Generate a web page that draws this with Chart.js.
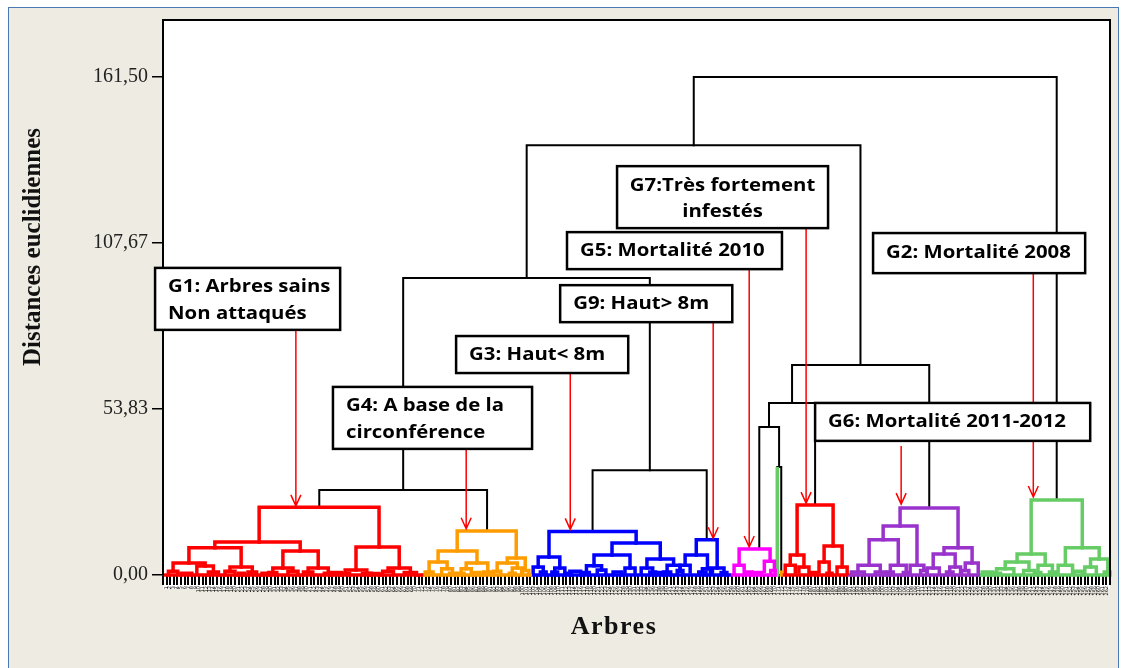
<!DOCTYPE html>
<html lang="fr">
<head>
<meta charset="utf-8">
<title>Dendrogramme</title>
<script src="https://cdn.jsdelivr.net/npm/chart.js@4.4.0/dist/chart.umd.min.js"></script>
<style>
  body { margin: 0; background: #fff; }
  #frame {
    position: absolute; left: 8px; top: 7px; width: 1111px; height: 672px;
    background: #eeebe2; border: 1.5px solid #4a78b2; box-sizing: border-box;
  }
  #dendro { position: absolute; left: 0; top: 0; }
</style>
</head>
<body>
<div id="frame"></div>
<canvas id="dendro" width="1123" height="668"></canvas>
<script>
// y ticks (distances euclidiennes)
const yTicks = [0, 53.83, 107.67, 161.5];

// links: [x left, x right, merge height, left child height, right child height]
// x = leaf position (1 leaf = 1 unit), heights in distance units
const blackLinks = [
  [147.4, 248.2, 161.5, 139.4, 24.3],
  [101.0, 193.7, 139.4, 96.3, 68.1],
  [66.7, 135.2, 96.3, 27.6, 34.0],
  [43.4, 90.0, 27.6, 22.0, 14.3],
  [119.3, 151.0, 34.0, 14.1, 11.4],
  [174.7, 212.8, 68.1, 55.8, 21.7],
  [168.3, 181.1, 55.8, 48.0, 22.7],
  [165.6, 171.1, 48.0, 8.4, 35.0],
  [170.6, 171.7, 35.0, 35.0, 1.5]
];

const redLinks = [
  [0.8, 71.8, 0, 0, 0],
  [26.7, 60.0, 22.0, 10.7, 9.1],
  [14.4, 38.1, 10.7, 8.8, 7.8],
  [7.2, 21.7, 8.8, 3.9, 2.6],
  [33.3, 43.1, 7.8, 2.3, 2.3],
  [53.6, 65.6, 9.1, 1.6, 2.3],
  [2.8, 11.7, 3.9, 1.2, 2.9],
  [9.4, 14.0, 2.9, 0.8, 1.0],
  [1.5, 4.1, 1.2, 0, 0.5],
  [5.0, 8.0, 0.6, 0, 0],
  [12.6, 15.4, 1.0, 0, 0],
  [18.6, 24.8, 2.6, 1.2, 1.0],
  [17.2, 20.0, 1.2, 0, 0],
  [23.6, 26.0, 1.0, 0, 0],
  [21.0, 22.6, 0.6, 0, 0],
  [27.5, 30.0, 0.6, 0, 0],
  [30.5, 36.1, 2.3, 0.8, 1.2],
  [29.4, 31.6, 0.8, 0, 0],
  [34.7, 37.5, 1.2, 0, 0],
  [40.3, 45.9, 2.3, 1.0, 0.6],
  [39.0, 41.6, 1.0, 0, 0],
  [44.8, 47.0, 0.6, 0, 0],
  [46.5, 49.5, 0.8, 0, 0],
  [50.6, 56.6, 1.6, 0.6, 0.6],
  [49.4, 51.8, 0.6, 0, 0],
  [55.4, 57.8, 0.6, 0, 0],
  [57.5, 60.0, 0.5, 0, 0],
  [62.5, 68.7, 2.3, 1.2, 0.8],
  [61.0, 64.0, 1.2, 0, 0],
  [67.0, 70.4, 0.8, 0, 0],
  // G7
  [172.6, 189.8, 0, 0, 0],
  [176.1, 186.1, 22.7, 6.5, 9.4],
  [174.2, 178.0, 6.5, 3.2, 2.6],
  [183.6, 188.6, 9.4, 4.2, 2.6],
  [172.8, 175.6, 3.2, 0.6, 1.0],
  [176.6, 179.4, 2.6, 1.0, 0.6],
  [182.2, 185.0, 4.2, 1.0, 1.0],
  [187.2, 190.0, 2.6, 0.6, 0.6],
  [179.6, 181.6, 0.8, 0, 0],
  [184.4, 185.8, 0.6, 0, 0]
];

const orangeLinks = [
  [72.2, 102.0, 0, 0, 0],
  [81.7, 98.1, 14.3, 7.8, 5.5],
  [76.4, 87.2, 7.8, 4.2, 3.9],
  [95.6, 100.6, 5.5, 3.9, 1.5],
  [73.9, 78.9, 4.2, 1.0, 2.0],
  [84.2, 90.2, 3.9, 2.0, 1.0],
  [92.8, 98.4, 3.9, 1.2, 2.3],
  [77.4, 80.4, 2.0, 0, 0.6],
  [79.6, 81.2, 0.6, 0, 0],
  [82.8, 85.6, 2.0, 0.6, 0],
  [82.0, 83.6, 0.6, 0, 0],
  [86.4, 88.0, 0.8, 0, 0],
  [97.0, 99.8, 2.3, 0.6, 0],
  [96.2, 97.8, 0.6, 0, 0],
  [99.6, 101.6, 1.5, 0, 0],
  [72.8, 75.0, 1.0, 0, 0],
  [89.0, 91.4, 1.0, 0, 0],
  [91.8, 93.8, 1.2, 0, 0],
  [171.7, 171.7, 1.5, 0, 0]
];

const blueLinks = [
  [102.4, 157.2, 0, 0, 0],
  [107.2, 131.4, 14.1, 5.8, 10.4],
  [104.2, 110.2, 5.8, 2.6, 2.3],
  [124.7, 138.1, 10.4, 6.5, 5.2],
  [119.7, 129.7, 6.5, 3.0, 2.3],
  [134.4, 141.8, 5.2, 2.3, 3.2],
  [102.8, 105.6, 2.6, 0.6, 1.0],
  [104.8, 106.4, 1.0, 0, 0],
  [108.8, 111.6, 2.3, 1.0, 0.6],
  [108.0, 109.6, 1.0, 0, 0],
  [117.6, 121.8, 3.0, 0.8, 1.6],
  [116.8, 118.4, 0.8, 0, 0],
  [120.6, 123.0, 1.6, 0, 0],
  [128.3, 131.1, 2.3, 0.6, 0.6],
  [132.8, 136.0, 2.3, 0.6, 1.0],
  [135.2, 136.8, 1.0, 0, 0],
  [140.0, 143.6, 3.2, 1.0, 1.2],
  [139.0, 141.0, 1.0, 0, 0],
  [113.0, 116.0, 1.2, 0, 0],
  [111.6, 113.4, 0.6, 0, 0],
  [125.0, 127.4, 1.0, 0, 0],
  [137.0, 139.2, 0.8, 0, 0],
  // G9
  [148.1, 153.9, 11.4, 6.5, 2.3],
  [145.0, 151.2, 6.5, 3.2, 2.0],
  [143.6, 146.4, 3.2, 1.5, 1.0],
  [142.8, 144.4, 1.5, 0, 0],
  [149.8, 152.6, 2.0, 1.0, 0.6],
  [148.8, 150.8, 1.0, 0, 0],
  [152.0, 155.8, 2.3, 0.8, 0.8],
  [155.0, 156.6, 0.8, 0, 0]
];

const magentaLinks = [
  [157.8, 169.6, 0, 0, 0],
  [160.0, 168.6, 8.4, 3.2, 4.5],
  [167.0, 169.8, 4.5, 1.2, 1.5],
  [158.6, 161.4, 3.2, 0.8, 1.0],
  [161.6, 163.6, 1.0, 0, 0],
  [164.0, 166.2, 0.8, 0, 0],
  [168.8, 170.0, 1.5, 0, 0]
];

const purpleLinks = [
  [190.4, 226.4, 0, 0, 0],
  [204.7, 220.8, 21.7, 15.9, 8.8],
  [200.0, 209.4, 15.9, 11.4, 3.2],
  [196.1, 204.2, 11.4, 3.2, 3.2],
  [216.9, 224.7, 8.8, 6.8, 3.9],
  [213.9, 220.0, 6.8, 2.3, 2.6],
  [193.0, 199.2, 3.2, 1.0, 1.0],
  [202.0, 206.4, 3.2, 1.0, 0.8],
  [207.5, 211.3, 3.2, 0.8, 1.5],
  [222.8, 226.4, 3.9, 1.5, 1.0],
  [212.2, 215.6, 2.3, 0.6, 0.6],
  [218.5, 221.5, 2.6, 1.0, 0.6],
  [191.2, 194.8, 1.0, 0, 0],
  [197.8, 200.6, 1.0, 0, 0],
  [201.2, 202.8, 1.0, 0, 0],
  [205.6, 207.2, 0.8, 0, 0],
  [210.4, 212.2, 1.5, 0, 0],
  [217.6, 219.4, 1.0, 0, 0],
  [221.8, 223.8, 1.5, 0, 0]
];

const greenLinks = [
  [226.8, 262.6, 0, 0, 0],
  [170.6, 170.6, 35.0, 0, 0],
  [241.1, 255.3, 24.3, 6.8, 8.8],
  [237.2, 245.0, 6.8, 4.2, 3.2],
  [250.6, 260.0, 8.8, 3.2, 5.2],
  [257.6, 262.4, 5.2, 2.6, 1.0],
  [233.9, 240.5, 4.2, 2.0, 1.5],
  [243.0, 247.0, 3.2, 0.8, 1.0],
  [248.6, 252.6, 3.2, 1.0, 0.8],
  [256.0, 259.2, 2.6, 0.8, 0.8],
  [231.5, 236.3, 2.0, 0.6, 0.6],
  [227.5, 230.5, 1.0, 0, 0],
  [229.4, 232.6, 0.6, 0, 0],
  [239.0, 242.0, 1.5, 0, 0],
  [242.2, 243.8, 0.8, 0, 0],
  [246.2, 247.8, 1.0, 0, 0],
  [253.0, 255.4, 1.2, 0, 0],
  [261.4, 263.0, 1.0, 0, 0]
];

// annotation boxes: box = [x left, top height, x right, bottom height], arrow = [x, from, to]
const notes = [
  { lines: ['G1: Arbres sains', 'Non attaqués'], box: [-2.2, 99.6, 49.2, 79.5], arrow: [36.9, 79.5, 22.4] },
  { lines: ['G4: A base de la', 'circonférence'], box: [47.2, 61.0, 102.5, 40.9], arrow: [84.2, 40.9, 15.0] },
  { lines: ['G3: Haut< 8m'], box: [81.4, 77.5, 129.2, 65.5], arrow: [113.1, 65.5, 14.8] },
  { lines: ['G9: Haut> 8m'], box: [110.3, 94.0, 158.1, 82.0], arrow: [152.8, 82.0, 11.9] },
  { lines: ['G5: Mortalité 2010'], box: [112.2, 111.2, 171.9, 99.2], arrow: [162.8, 99.2, 9.1] },
  { lines: ['G7:Très fortement', 'infestés'], box: [126.1, 132.6, 184.7, 112.5], arrow: [178.6, 112.5, 23.3], center: true },
  { lines: ['G2: Mortalité 2008'], box: [197.2, 110.9, 256.1, 97.9], arrow: [241.7, 97.9, 25.3] },
  { lines: ['G6: Mortalité 2011-2012'], box: [181.1, 55.8, 257.5, 43.5], arrow: [205.0, 41.8, 23.0] }
];

const groups = [
  { links: redLinks, color: '#ff0000', width: 3.5 },
  { links: orangeLinks, color: '#ff9c00', width: 3.5 },
  { links: blueLinks, color: '#0000ff', width: 3.5 },
  { links: magentaLinks, color: '#ff00ff', width: 3.5 },
  { links: purpleLinks, color: '#9933cc', width: 3.5 },
  { links: greenLinks, color: '#66cc66', width: 3.5 },
  { links: blackLinks, color: '#000000', width: 2 }
];

const datasets = [];
groups.forEach(g => {
  g.links.forEach(([xl, xr, h, hl, hr]) => {
    datasets.push({
      data: [{x: xl, y: hl}, {x: xl, y: h}, {x: xr, y: h}, {x: xr, y: hr}],
      borderColor: g.color,
      borderWidth: g.width,
      showLine: true,
      pointRadius: 0,
      tension: 0,
      clip: false,
      borderJoinStyle: 'miter',
      borderCapStyle: 'square'
    });
  });
});

const framePlugin = {
  id: 'frame',
  beforeDraw(chart) {
    const {ctx, chartArea: a} = chart;
    ctx.save();
    ctx.fillStyle = '#fff';
    ctx.fillRect(a.left, a.top, a.right - a.left, a.bottom - a.top + 14);
    ctx.restore();
  },
  afterDraw(chart) {
    const {ctx, chartArea: a} = chart;
    ctx.save();
    ctx.strokeStyle = '#000';
    ctx.lineWidth = 2;
    ctx.beginPath();
    ctx.moveTo(a.left - 1, a.top);
    ctx.lineTo(a.right, a.top);
    ctx.lineTo(a.right, a.bottom + 2);
    ctx.stroke();

    // axis titles
    ctx.fillStyle = '#111';
    ctx.textAlign = 'center';
    ctx.textBaseline = 'middle';
    ctx.font = 'bold 25px "Liberation Serif"';
    ctx.translate(34, 247);
    ctx.rotate(-Math.PI / 2);
    ctx.fillText('Distances euclidiennes', 0, 0);
    ctx.restore();

    ctx.save();
    ctx.fillStyle = '#111';
    ctx.textAlign = 'center';
    ctx.textBaseline = 'middle';
    ctx.font = 'bold 26px "Liberation Serif"';
    ctx.letterSpacing = '1.5px';
    ctx.fillText('Arbres', 614, 627);
    ctx.restore();
  }
};

const notesPlugin = {
  id: 'notes',
  afterDraw(chart) {
    const {ctx} = chart;
    const xs = chart.scales.x, ys = chart.scales.y;
    notes.forEach(n => {
      const [bx0, by0, bx1, by1] = n.box;
      const L = xs.getPixelForValue(bx0), R = xs.getPixelForValue(bx1);
      const T = ys.getPixelForValue(by0), B = ys.getPixelForValue(by1);
      const ax = xs.getPixelForValue(n.arrow[0]);
      const a0 = ys.getPixelForValue(n.arrow[1]);
      const a1 = ys.getPixelForValue(n.arrow[2]);
      ctx.save();
      // arrow
      ctx.strokeStyle = '#ff0000';
      ctx.lineWidth = 1.5;
      ctx.beginPath();
      ctx.moveTo(ax, a0);
      ctx.lineTo(ax, a1);
      ctx.moveTo(ax - 5, a1 - 11);
      ctx.lineTo(ax, a1);
      ctx.lineTo(ax + 5, a1 - 11);
      ctx.stroke();
      // box
      ctx.fillStyle = '#fff';
      ctx.fillRect(L, T, R - L, B - T);
      ctx.strokeStyle = '#000';
      ctx.lineWidth = 2.5;
      ctx.strokeRect(L, T, R - L, B - T);
      // text
      ctx.fillStyle = '#000';
      ctx.font = 'bold 18.5px "Open Sans"';
      ctx.textBaseline = 'middle';
      const h = B - T;
      n.lines.forEach((line, i) => {
        const ty = n.lines.length === 1 ? T + h / 2 : T + h * (i === 0 ? 0.31 : 0.74);
        ctx.save();
        if (n.center) {
          ctx.textAlign = 'center';
          ctx.translate((L + R) / 2, ty);
        } else {
          ctx.textAlign = 'left';
          ctx.translate(L + 13, ty);
        }
        ctx.scale(1.1, 1);
        ctx.fillText(line, 0, 0);
        ctx.restore();
      });
      ctx.restore();
    });
  }
};

new Chart(document.getElementById('dendro'), {
  type: 'scatter',
  data: { datasets: datasets },
  options: {
    responsive: false,
    animation: false,
    devicePixelRatio: 1,
    events: [],
    layout: { padding: { top: 20, right: 13, left: 0, bottom: 0 } },
    plugins: { legend: { display: false }, tooltip: { enabled: false } },
    scales: {
      x: {
        type: 'linear', min: 0, max: 263,
        afterFit(s) { s.height = 93; },
        ticks: {
          stepSize: 1, autoSkip: false, maxRotation: 90, minRotation: 90,
          font: { size: 5, family: 'DejaVu Sans' }, color: '#000', padding: 1,
          callback: v => (v > 0 && v < 263) ? String(v) : ''
        },
        grid: { drawOnChartArea: false, tickLength: 10, color: '#000', lineWidth: 2 },
        border: { color: '#000', width: 1.5 }
      },
      y: {
        min: 0, max: 180,
        afterFit(s) { s.width = 163; },
        afterBuildTicks(s) { s.ticks = yTicks.map(v => ({ value: v })); },
        ticks: {
          callback: v => v.toFixed(2).replace('.', ','),
          font: { family: 'Liberation Serif', size: 20 }, color: '#222', padding: 4
        },
        grid: { drawOnChartArea: false, tickLength: 11, color: '#000', lineWidth: 1.5 },
        border: { color: '#000', width: 2 }
      }
    }
  },
  plugins: [framePlugin, notesPlugin]
});
</script>
</body>
</html>
